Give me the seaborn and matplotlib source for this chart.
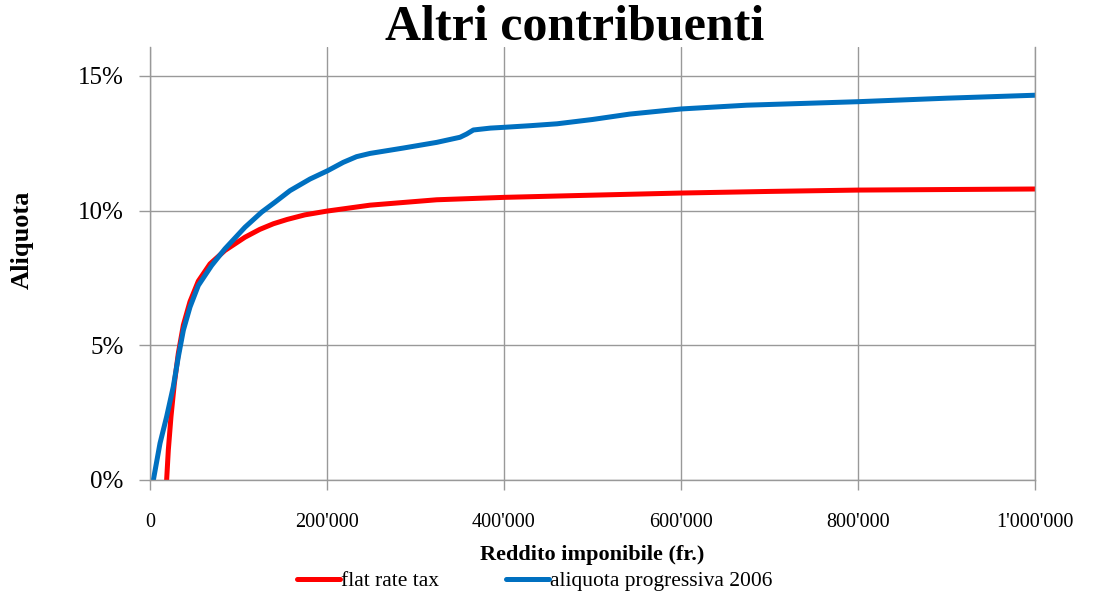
import matplotlib
matplotlib.use("Agg")
import matplotlib.pyplot as plt
import matplotlib.ticker as mticker
import seaborn as sns
import pandas as pd

# valori (reddito in fr., aliquota in %)
flat_x = [18800, 20700, 23700, 27500, 32000, 37700, 45200, 54600, 67800, 84700,
          107300, 124000, 139400, 155000, 175000, 200000, 248600, 323900, 400500,
          486000, 600000, 700000, 800000, 900000, 1000000]
flat_y = [0.0, 1.11, 2.35, 3.58, 4.70, 5.75, 6.62, 7.38, 8.02, 8.52,
          9.01, 9.30, 9.51, 9.67, 9.84, 9.98, 10.20, 10.40, 10.49,
          10.56, 10.65, 10.71, 10.76, 10.78, 10.80]

prog_x = [3800, 11300, 18800, 26300, 32000, 37700, 45200, 54600, 69600, 84700,
          107300, 126100, 141200, 158200, 180800, 200800, 218400, 233400, 248600,
          286200, 323900, 350300, 357800, 365400, 384600, 400500, 429900, 460000,
          500000, 542000, 600000, 674000, 800000, 900000, 1000000]
prog_y = [0.0, 1.36, 2.35, 3.46, 4.57, 5.56, 6.42, 7.22, 7.96, 8.58,
          9.38, 9.94, 10.31, 10.74, 11.17, 11.48, 11.79, 12.00, 12.12,
          12.32, 12.53, 12.72, 12.84, 12.99, 13.06, 13.09, 13.15, 13.22,
          13.38, 13.58, 13.77, 13.91, 14.04, 14.17, 14.28]

serie = ["flat rate tax", "aliquota progressiva 2006"]
colori = ["#FF0000", "#0070C0"]
x_ticks = [0, 200000, 400000, 600000, 800000, 1000000]
y_ticks = [0, 5, 10, 15]

df = pd.concat([
    pd.DataFrame({"reddito": flat_x, "aliquota": flat_y, "serie": serie[0]}),
    pd.DataFrame({"reddito": prog_x, "aliquota": prog_y, "serie": serie[1]}),
])

sns.set_theme(style="white")
plt.rcParams["font.family"] = ["Liberation Serif", "DejaVu Serif"]
plt.rcParams["text.color"] = "black"
plt.rcParams["axes.labelcolor"] = "black"
plt.rcParams["xtick.color"] = "black"
plt.rcParams["ytick.color"] = "black"

fig = plt.figure(figsize=(10.97, 5.96), dpi=100)
ax = fig.add_axes([150 / 1097, 1 - 480 / 596, 885 / 1097, 433 / 596])

sns.lineplot(data=df, x="reddito", y="aliquota", hue="serie", hue_order=serie,
             palette=colori, linewidth=3.6, sort=False, ax=ax, legend=False)

ax.set_xlim(0, 1000000)
ax.set_ylim(0, 16.07)
ax.set_xticks(x_ticks)
ax.set_yticks(y_ticks)
ax.xaxis.set_major_formatter(mticker.FuncFormatter(
    lambda v, p: "0" if v == 0 else f"{int(v):,}".replace(",", "'")))
ax.yaxis.set_major_formatter(mticker.FuncFormatter(lambda v, p: f"{int(v)}%"))
ax.tick_params(axis="x", labelsize=14.5, length=7, width=1, color="#999999",
               labelcolor="black", direction="out", bottom=True, pad=17)
ax.tick_params(axis="y", labelsize=18, length=8, width=1, color="#999999",
               labelcolor="black", direction="out", left=True, pad=11)
ax.grid(True, color="#999999", linewidth=1)
ax.spines["top"].set_visible(False)
for s in ["left", "bottom", "right"]:
    ax.spines[s].set_color("#999999")
    ax.spines[s].set_linewidth(1)

ax.set_xlabel("Reddito imponibile (fr.)", fontsize=16, fontweight="bold", labelpad=9)
ax.set_ylabel("Aliquota", fontsize=19, fontweight="bold")
ax.yaxis.set_label_coords(-0.131, 0.554)
fig.text(575 / 1097, 1 - 40 / 596, "Altri contribuenti", ha="center", va="baseline",
         fontsize=36, fontweight="bold")

handles = [plt.Line2D([], [], color=c, linewidth=3.6) for c in colori]
fig.legend(handles, serie, loc="center", bbox_to_anchor=(535 / 1097, 1 - 581 / 596),
           ncol=2, frameon=False, fontsize=15.5, handlelength=2.0, handletextpad=0.05,
           columnspacing=3.1, borderpad=0)

fig.savefig("out.png", dpi=100)
